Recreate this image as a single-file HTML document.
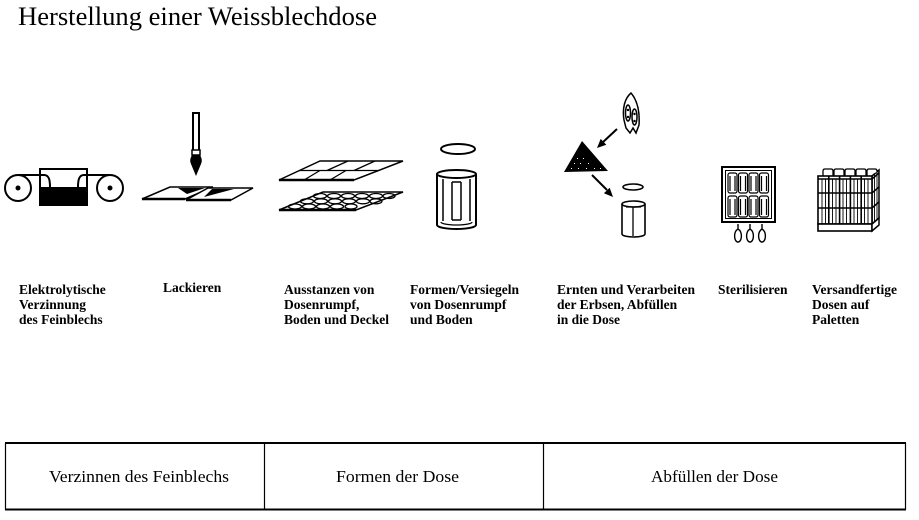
<!DOCTYPE html>
<html><head><meta charset="utf-8"><style>
html,body{margin:0;padding:0;background:#fff;width:919px;height:520px;overflow:hidden}
svg{display:block}
text{font-family:"Liberation Serif",serif;fill:#000}
.l{font-size:13.5px;font-weight:bold}
.t{font-size:17px}
</style></head><body>
<svg width="919" height="520" viewBox="0 0 919 520" xmlns="http://www.w3.org/2000/svg">
<text x="18" y="25" font-size="26" textLength="359" lengthAdjust="spacingAndGlyphs">Herstellung einer Weissblechdose</text>

<!-- Verzinnung -->
<g stroke="#000" fill="none" stroke-width="2">
<circle cx="18" cy="188" r="13"/><circle cx="110" cy="188" r="13"/>
<rect x="40" y="169" width="47" height="36"/>
<path d="M18,175 H44 C49,175 50,180 50,187 M78,187 C78,180 79,175 84,175 H110"/>
</g>
<circle cx="18" cy="188" r="2.5"/><circle cx="110" cy="188" r="2.5"/>
<rect x="40" y="187" width="47" height="18"/>

<!-- Lackieren -->
<rect x="193" y="113" width="6" height="38" fill="#fff" stroke="#000" stroke-width="2"/>
<rect x="192" y="150" width="8" height="5" fill="#fff" stroke="#000" stroke-width="1.5"/>
<path d="M192,155 L200,155 Q203,160 201,164 L196,176 L191,164 Q189,160 192,155 Z"/>
<g stroke="#000" stroke-width="1.5" fill="#fff">
<polygon points="142,199 170,187 213,187 185,199"/>
<polygon points="186,200 208,188 253,188 231,200"/>
</g>
<path d="M142,199 H185 M186,200 H231" stroke="#000" stroke-width="2.5"/>
<polygon points="178,188 205,188 187,194"/>
<polygon points="212,189 234,189 204,197"/>

<!-- Ausstanzen -->
<g stroke="#000" stroke-width="1.5" fill="#fff">
<polygon points="279,180 320,161 403,161 354,180"/>
<polygon points="279,210 323,192 403,192 356,210"/>
</g>
<path d="M279,180 H354 M279,210 H356" stroke="#000" stroke-width="2.5"/>
<g stroke="#000" stroke-width="1.3" fill="none">
<path d="M299.5,170.5 H378.5 M348,161 L327,170.5 M375,161 L354,170.5 M320,170.5 L304,180 M346,170.5 L330,180"/>
<ellipse cx="320" cy="196" rx="6.5" ry="2.5"/><ellipse cx="334" cy="196" rx="6.5" ry="2.5"/><ellipse cx="348" cy="196" rx="6.5" ry="2.5"/><ellipse cx="362" cy="196" rx="6.5" ry="2.5"/><ellipse cx="376" cy="196" rx="6.5" ry="2.5"/><ellipse cx="389" cy="196" rx="6" ry="2.5"/>
<ellipse cx="307" cy="201.3" rx="6.5" ry="2.5"/><ellipse cx="321" cy="201.3" rx="6.5" ry="2.5"/><ellipse cx="335" cy="201.3" rx="6.5" ry="2.5"/><ellipse cx="349" cy="201.3" rx="6.5" ry="2.5"/><ellipse cx="363" cy="201.3" rx="6.5" ry="2.5"/><ellipse cx="376" cy="201.3" rx="6" ry="2.5"/>
<ellipse cx="295" cy="206.5" rx="6.5" ry="2.5"/><ellipse cx="309" cy="206.5" rx="6.5" ry="2.5"/><ellipse cx="323" cy="206.5" rx="6.5" ry="2.5"/><ellipse cx="337" cy="206.5" rx="6.5" ry="2.5"/><ellipse cx="351" cy="206.5" rx="6" ry="2.5"/>
</g>

<!-- Formen -->
<g stroke="#000" stroke-width="2" fill="none">
<ellipse cx="458" cy="149" rx="17" ry="5"/>
<ellipse cx="456.5" cy="174" rx="19.5" ry="4"/>
<path d="M437,174 V225 A19.5,4 0 0 0 476,225 V174"/>
<path d="M441,222 A15.5,3 0 0 0 472,222" stroke-width="1.3"/>
<path d="M443,179 V221 M452,182 V220 M461,182 V220 M470,179 V221 M452,182 H461 M452,220 H461" stroke-width="1.5"/>
</g>

<!-- Erbsen -->
<g stroke="#000" stroke-width="1.5" fill="#fff">
<path d="M631,93 C637,100 640,110 639,125 L636,133 L633,128 L630,133 L626,128 L624,120 C622,108 625,98 631,93 Z"/>
<ellipse cx="628" cy="113" rx="2.5" ry="8"/><ellipse cx="634.5" cy="117" rx="2.5" ry="8"/>
</g>
<circle cx="628" cy="110" r="1.2"/><circle cx="634.5" cy="114" r="1.2"/><circle cx="628" cy="117" r="1.2"/><circle cx="634.5" cy="121" r="1.2"/>
<path d="M617,129 L602,143 M592,175 L607,190" stroke="#000" stroke-width="2"/>
<polygon points="597,148 606.3,144.7 600.7,138.9"/>
<polygon points="613,197 609.7,187.7 603.9,193.3"/>
<polygon points="582,141 564,172 608,171"/>
<g fill="#fff">
<rect x="577" y="158" width="1" height="1"/><rect x="583" y="158" width="1" height="1"/><rect x="574" y="163" width="1" height="1"/><rect x="580" y="163" width="1" height="1"/><rect x="588" y="163" width="1" height="1"/><rect x="571" y="168" width="1" height="1"/><rect x="578" y="168" width="1" height="1"/><rect x="586" y="168" width="1" height="1"/><rect x="594" y="168" width="1" height="1"/><rect x="600" y="168" width="1" height="1"/>
</g>
<g stroke="#000" stroke-width="1.6" fill="none">
<ellipse cx="633" cy="187" rx="10" ry="3"/>
<ellipse cx="633.5" cy="204" rx="11.5" ry="3"/>
<path d="M622,204 V234 A11.5,3 0 0 0 645,234 V204"/>
<path d="M626,207 H641 M633,207 V236" stroke-width="1.3"/>
</g>

<!-- Sterilisieren -->
<g stroke="#000" fill="none">
<rect x="722" y="167" width="53" height="55" stroke-width="2"/>
<rect x="725.5" y="170.5" width="46" height="48" stroke-width="1"/>
<g stroke-width="1.2">
<rect x="728" y="173" width="9" height="20" rx="2"/><rect x="738.5" y="173" width="9" height="20" rx="2"/><rect x="749" y="173" width="9" height="20" rx="2"/><rect x="759.5" y="173" width="9" height="20" rx="2"/>
<rect x="728" y="196" width="9" height="21" rx="2"/><rect x="738.5" y="196" width="9" height="21" rx="2"/><rect x="749" y="196" width="9" height="21" rx="2"/><rect x="759.5" y="196" width="9" height="21" rx="2"/>
<path d="M730,176 V191 M735,176 V191 M740.5,176 V191 M745.5,176 V191 M751,176 V191 M756,176 V191 M761.5,176 V191 M766.5,176 V191"/>
<path d="M730,199 V215 M735,199 V215 M740.5,199 V215 M745.5,199 V215 M751,199 V215 M756,199 V215 M761.5,199 V215 M766.5,199 V215"/>
</g>
<g stroke-width="1.4">
<path d="M738,224 V229 C743,232 742,242 738,242 C734,242 733,232 738,229"/>
<path d="M750,224 V229 C755,232 754,242 750,242 C746,242 745,232 750,229"/>
<path d="M762,224 V229 C767,232 766,242 762,242 C758,242 757,232 762,229"/>
</g>
</g>

<!-- Paletten -->
<g stroke="#000" fill="#fff">
<polygon points="872,176 879,170 879,218 872,224" stroke-width="1.5"/>
<g stroke-width="1.3">
<path d="M823,176 V171 Q823,169 825,169 H831 Q833,169 833,171 V176"/>
<path d="M834,176 V171 Q834,169 836,169 H842 Q844,169 844,171 V176"/>
<path d="M845,176 V171 Q845,169 847,169 H853 Q855,169 855,171 V176"/>
<path d="M856,176 V171 Q856,169 858,169 H864 Q866,169 866,171 V176"/>
<path d="M867,176 V171 Q867,169 869,169 H875 Q877,169 877,171 V172"/>
</g>
<rect x="818" y="176" width="54" height="48" stroke-width="1.6"/>
<rect x="818" y="224" width="54" height="7" stroke-width="1.6"/>
<polygon points="872,224 879,218 879,225 872,231" stroke-width="1.5"/>
</g>
<g stroke="#000" fill="none">
<path d="M828.8,176 V224 M839.6,176 V224 M850.4,176 V224 M861.2,176 V224" stroke-width="1.6"/>
<path d="M822,179 V224 M825.5,179 V224 M832.5,179 V224 M836,179 V224 M843,179 V224 M846.5,179 V224 M854,179 V224 M857.5,179 V224 M864.5,179 V224 M868,179 V224 M874.5,174 V221 M877,172 V219" stroke-width="0.9"/>
<path d="M818,179 H872 L879,173 M818,193 H872 L879,187 M818,208 H872 L879,202" stroke-width="1.5"/>
</g>

<!-- Labels -->
<text class="l" x="19" y="294">Elektrolytische</text>
<text class="l" x="19" y="309">Verzinnung</text>
<text class="l" x="19" y="324">des Feinblechs</text>
<text class="l" x="163" y="292">Lackieren</text>
<text class="l" x="284" y="294">Ausstanzen von</text>
<text class="l" x="284" y="309">Dosenrumpf,</text>
<text class="l" x="284" y="324">Boden und Deckel</text>
<text class="l" x="410" y="294">Formen/Versiegeln</text>
<text class="l" x="410" y="309">von Dosenrumpf</text>
<text class="l" x="410" y="324">und Boden</text>
<text class="l" x="557" y="294">Ernten und Verarbeiten</text>
<text class="l" x="557" y="309">der Erbsen, Abfüllen</text>
<text class="l" x="557" y="324">in die Dose</text>
<text class="l" x="718" y="294">Sterilisieren</text>
<text class="l" x="812" y="294">Versandfertige</text>
<text class="l" x="812" y="309">Dosen auf</text>
<text class="l" x="812" y="324">Paletten</text>

<!-- Table -->
<g stroke="#000" fill="none">
<path d="M5,443 H906 M5,509.5 H906" stroke-width="2"/>
<path d="M5.5,443 V509.5 M264.5,443 V509.5 M543.5,443 V509.5 M905.5,443 V509.5" stroke-width="1.2"/>
</g>
<text class="t" x="49" y="482" textLength="180" lengthAdjust="spacingAndGlyphs">Verzinnen des Feinblechs</text>
<text class="t" x="336" y="482" textLength="123" lengthAdjust="spacingAndGlyphs">Formen der Dose</text>
<text class="t" x="651" y="482" textLength="127" lengthAdjust="spacingAndGlyphs">Abfüllen der Dose</text>
</svg>
</body></html>
